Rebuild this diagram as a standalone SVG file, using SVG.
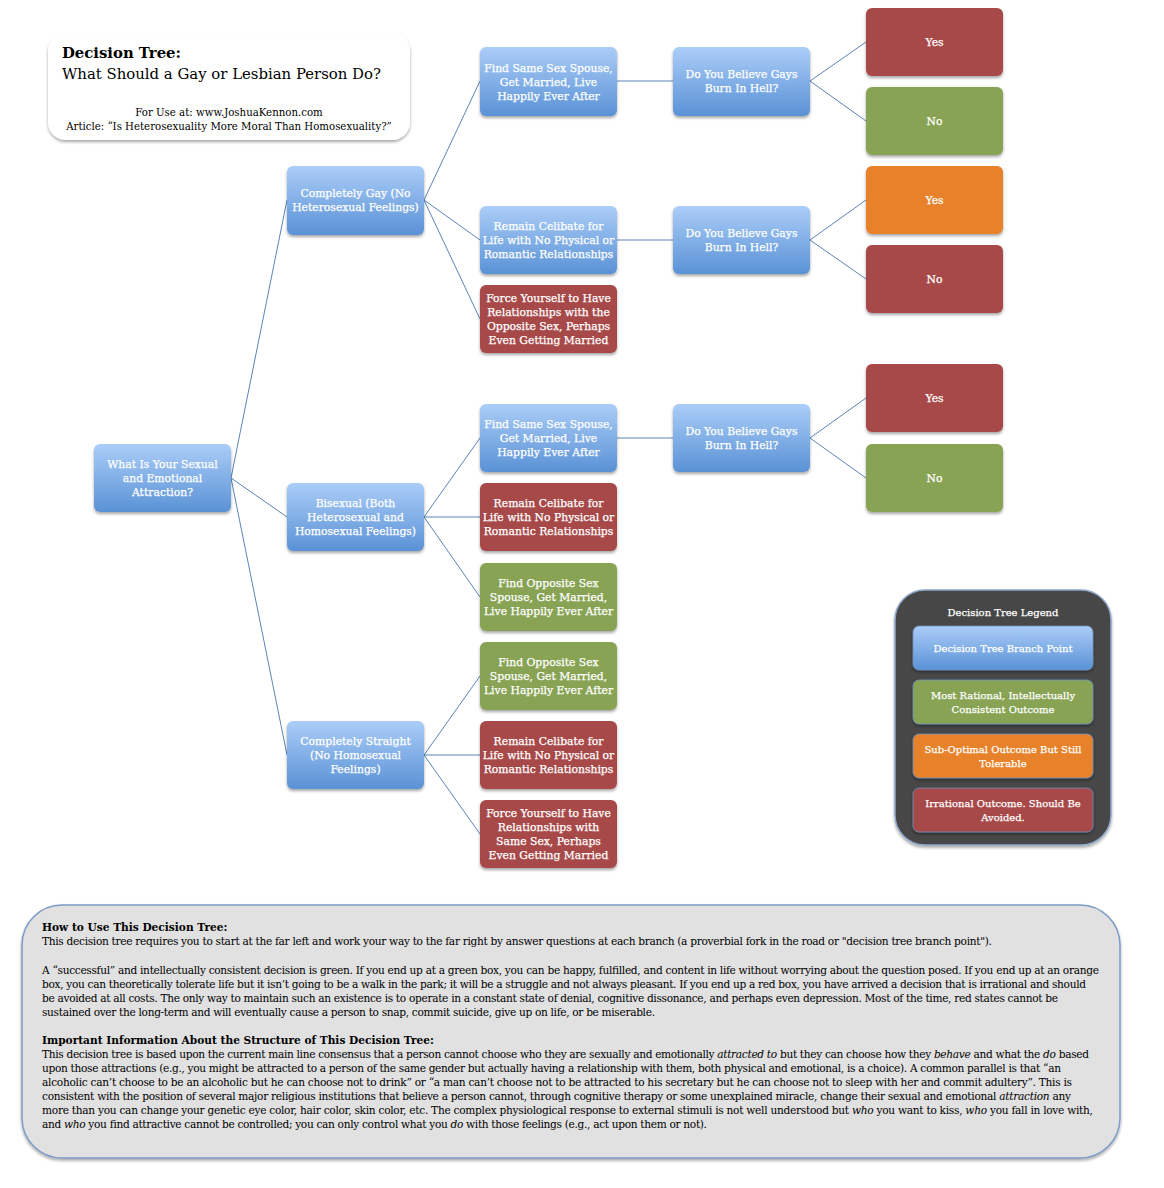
<svg xmlns="http://www.w3.org/2000/svg" width="1164" height="1188" viewBox="0 0 1164 1188">
<defs>
<linearGradient id="blue" x1="0" y1="0" x2="0" y2="1">
<stop offset="0" stop-color="#abcdf8"/>
<stop offset="1" stop-color="#5a92d6"/>
</linearGradient>
<filter id="sh" x="-20%" y="-20%" width="140%" height="150%">
<feDropShadow dx="0" dy="2" stdDeviation="1.6" flood-color="#000" flood-opacity="0.35"/>
</filter>
<style>
.n{filter:url(#sh)}
.b{fill:url(#blue)}
.r{fill:#a84a48}
.g{fill:#87a353}
.o{fill:#e8822a}
.t{font-family:"DejaVu Serif","Liberation Serif",serif;font-size:10.8px;fill:#fff;stroke:#fff;stroke-width:0.25;text-anchor:middle}
.lg{font-size:10px}
.c line{stroke:#5b84b8;stroke-width:1}
.p{font-family:"DejaVu Serif","Liberation Serif",serif;font-size:10.6px;fill:#000}
.h{font-weight:bold}
</style>
</defs>
<rect width="1164" height="1188" fill="#fff"/>

<g id="title">
<rect x="48" y="33" width="362" height="107" rx="18" fill="#fff" filter="url(#sh)"/>
<text x="62" y="58" font-family="DejaVu Serif, serif" font-size="15.5" font-weight="bold" fill="#000" textLength="119" lengthAdjust="spacingAndGlyphs">Decision Tree:</text>
<text x="62" y="79" font-family="DejaVu Serif, serif" font-size="15" fill="#000" textLength="319" lengthAdjust="spacingAndGlyphs">What Should a Gay or Lesbian Person Do?</text>
<text x="229" y="116" font-family="DejaVu Serif, serif" font-size="10.2" fill="#000" text-anchor="middle">For Use at: www.JoshuaKennon.com</text>
<text x="229" y="130" font-family="DejaVu Serif, serif" font-size="10.2" fill="#000" text-anchor="middle">Article: “Is Heterosexuality More Moral Than Homosexuality?”</text>
</g>

<g class="c" id="connectors">
<line x1="231" y1="478" x2="287" y2="200"/>
<line x1="231" y1="478" x2="287" y2="517"/>
<line x1="231" y1="478" x2="287" y2="755"/>
<line x1="424" y1="200" x2="480" y2="81"/>
<line x1="424" y1="200" x2="480" y2="240"/>
<line x1="424" y1="200" x2="480" y2="319"/>
<line x1="424" y1="517" x2="480" y2="438"/>
<line x1="424" y1="517" x2="480" y2="517"/>
<line x1="424" y1="517" x2="480" y2="597"/>
<line x1="424" y1="755" x2="480" y2="676"/>
<line x1="424" y1="755" x2="480" y2="755"/>
<line x1="424" y1="755" x2="480" y2="834"/>
<line x1="617" y1="81" x2="673" y2="81"/>
<line x1="617" y1="240" x2="673" y2="240"/>
<line x1="617" y1="438" x2="673" y2="438"/>
<line x1="810" y1="81" x2="866" y2="42"/>
<line x1="810" y1="81" x2="866" y2="121"/>
<line x1="810" y1="240" x2="866" y2="200"/>
<line x1="810" y1="240" x2="866" y2="279"/>
<line x1="810" y1="438" x2="866" y2="398"/>
<line x1="810" y1="438" x2="866" y2="478"/>
</g>

<g id="root"><rect class="n b" x="94" y="444" width="137" height="68" rx="6"/>
<text class="t"><tspan x="162.5" y="468">What Is Your Sexual</tspan><tspan x="162.5" y="482">and Emotional</tspan><tspan x="162.5" y="496">Attraction?</tspan></text></g>

<g id="gay"><rect class="n b" x="287" y="166" width="137" height="69" rx="6"/>
<text class="t"><tspan x="355.5" y="197">Completely Gay (No</tspan><tspan x="355.5" y="211">Heterosexual Feelings)</tspan></text></g>

<g id="bi"><rect class="n b" x="287" y="483" width="137" height="68" rx="6"/>
<text class="t"><tspan x="355.5" y="507">Bisexual (Both</tspan><tspan x="355.5" y="521">Heterosexual and</tspan><tspan x="355.5" y="535">Homosexual Feelings)</tspan></text></g>

<g id="straight"><rect class="n b" x="287" y="721" width="137" height="68" rx="6"/>
<text class="t"><tspan x="355.5" y="745">Completely Straight</tspan><tspan x="355.5" y="759">(No Homosexual</tspan><tspan x="355.5" y="773">Feelings)</tspan></text></g>

<g id="gay-spouse"><rect class="n b" x="480" y="47" width="137" height="69" rx="6"/>
<text class="t"><tspan x="548.5" y="72">Find Same Sex Spouse,</tspan><tspan x="548.5" y="86">Get Married, Live</tspan><tspan x="548.5" y="100">Happily Ever After</tspan></text></g>

<g id="gay-celibate"><rect class="n b" x="480" y="206" width="137" height="68" rx="6"/>
<text class="t"><tspan x="548.5" y="230">Remain Celibate for</tspan><tspan x="548.5" y="244">Life with No Physical or</tspan><tspan x="548.5" y="258">Romantic Relationships</tspan></text></g>

<g id="gay-force"><rect class="n r" x="480" y="285" width="137" height="68" rx="6"/>
<text class="t"><tspan x="548.5" y="302">Force Yourself to Have</tspan><tspan x="548.5" y="316">Relationships with the</tspan><tspan x="548.5" y="330">Opposite Sex, Perhaps</tspan><tspan x="548.5" y="344">Even Getting Married</tspan></text></g>

<g id="bi-spouse"><rect class="n b" x="480" y="404" width="137" height="68" rx="6"/>
<text class="t"><tspan x="548.5" y="428">Find Same Sex Spouse,</tspan><tspan x="548.5" y="442">Get Married, Live</tspan><tspan x="548.5" y="456">Happily Ever After</tspan></text></g>

<g id="bi-celibate"><rect class="n r" x="480" y="483" width="137" height="68" rx="6"/>
<text class="t"><tspan x="548.5" y="507">Remain Celibate for</tspan><tspan x="548.5" y="521">Life with No Physical or</tspan><tspan x="548.5" y="535">Romantic Relationships</tspan></text></g>

<g id="bi-opposite"><rect class="n g" x="480" y="563" width="137" height="68" rx="6"/>
<text class="t"><tspan x="548.5" y="587">Find Opposite Sex</tspan><tspan x="548.5" y="601">Spouse, Get Married,</tspan><tspan x="548.5" y="615">Live Happily Ever After</tspan></text></g>

<g id="straight-opposite"><rect class="n g" x="480" y="642" width="137" height="68" rx="6"/>
<text class="t"><tspan x="548.5" y="666">Find Opposite Sex</tspan><tspan x="548.5" y="680">Spouse, Get Married,</tspan><tspan x="548.5" y="694">Live Happily Ever After</tspan></text></g>

<g id="straight-celibate"><rect class="n r" x="480" y="721" width="137" height="68" rx="6"/>
<text class="t"><tspan x="548.5" y="745">Remain Celibate for</tspan><tspan x="548.5" y="759">Life with No Physical or</tspan><tspan x="548.5" y="773">Romantic Relationships</tspan></text></g>

<g id="straight-force"><rect class="n r" x="480" y="800" width="137" height="68" rx="6"/>
<text class="t"><tspan x="548.5" y="817">Force Yourself to Have</tspan><tspan x="548.5" y="831">Relationships with</tspan><tspan x="548.5" y="845">Same Sex, Perhaps</tspan><tspan x="548.5" y="859">Even Getting Married</tspan></text></g>

<g id="q1"><rect class="n b" x="673" y="47" width="137" height="69" rx="6"/>
<text class="t"><tspan x="741.5" y="78">Do You Believe Gays</tspan><tspan x="741.5" y="92">Burn In Hell?</tspan></text></g>
<g id="q2"><rect class="n b" x="673" y="206" width="137" height="68" rx="6"/>
<text class="t"><tspan x="741.5" y="237">Do You Believe Gays</tspan><tspan x="741.5" y="251">Burn In Hell?</tspan></text></g>
<g id="q3"><rect class="n b" x="673" y="404" width="137" height="68" rx="6"/>
<text class="t"><tspan x="741.5" y="435">Do You Believe Gays</tspan><tspan x="741.5" y="449">Burn In Hell?</tspan></text></g>

<g id="q1-yes"><rect class="n r" x="866" y="8" width="137" height="68" rx="6"/><text class="t" x="934.5" y="46">Yes</text></g>
<g id="q1-no"><rect class="n g" x="866" y="87" width="137" height="68" rx="6"/><text class="t" x="934.5" y="125">No</text></g>
<g id="q2-yes"><rect class="n o" x="866" y="166" width="137" height="68" rx="6"/><text class="t" x="934.5" y="204">Yes</text></g>
<g id="q2-no"><rect class="n r" x="866" y="245" width="137" height="68" rx="6"/><text class="t" x="934.5" y="283">No</text></g>
<g id="q3-yes"><rect class="n r" x="866" y="364" width="137" height="68" rx="6"/><text class="t" x="934.5" y="402">Yes</text></g>
<g id="q3-no"><rect class="n g" x="866" y="444" width="137" height="68" rx="6"/><text class="t" x="934.5" y="482">No</text></g>

<g id="legend">
<rect x="895" y="590" width="216" height="255" rx="30" fill="#474747" stroke="#8da7ca" stroke-width="1.5" filter="url(#sh)"/>
<text class="t lg" x="1003" y="616">Decision Tree Legend</text>
<rect class="n b" x="913" y="626" width="180" height="44" rx="6" stroke="#6f8fbf" stroke-width="0.8"/>
<text class="t lg" x="1003" y="652">Decision Tree Branch Point</text>
<rect class="n g" x="913" y="680" width="180" height="44" rx="6" stroke="#6f8fbf" stroke-width="0.8"/>
<text class="t lg"><tspan x="1003" y="699">Most Rational, Intellectually</tspan><tspan x="1003" y="713">Consistent Outcome</tspan></text>
<rect class="n o" x="913" y="734" width="180" height="44" rx="6" stroke="#6f8fbf" stroke-width="0.8"/>
<text class="t lg"><tspan x="1003" y="753">Sub-Optimal Outcome But Still</tspan><tspan x="1003" y="767">Tolerable</tspan></text>
<rect class="n r" x="913" y="788" width="180" height="44" rx="6" stroke="#6f8fbf" stroke-width="0.8"/>
<text class="t lg"><tspan x="1003" y="807">Irrational Outcome.  Should Be</tspan><tspan x="1003" y="821">Avoided.</tspan></text>
</g>

<g id="notes">
<rect x="22" y="905" width="1098" height="253" rx="40" fill="#e1e1e1" stroke="#7e9bc6" stroke-width="1.5" filter="url(#sh)"/>
<text class="p h" x="42" y="931">How to Use This Decision Tree:</text>
<text class="p" x="42" y="945" textLength="950" lengthAdjust="spacing">This decision tree requires you to start at the far left and work your way to the far right by answer questions at each branch (a proverbial fork in the road or "decision tree branch point").</text>
<text class="p" x="42" y="974" textLength="1057" lengthAdjust="spacing">A “successful” and intellectually consistent decision is green.  If you end up at a green box, you can be happy, fulfilled, and content in life without worrying about the question posed.  If you end up at an orange</text>
<text class="p" x="42" y="988" textLength="1044" lengthAdjust="spacing">box, you can theoretically tolerate life but it isn’t going to be a walk in the park; it will be a struggle and not always pleasant.  If you end up a red box, you have arrived a decision that is irrational and should</text>
<text class="p" x="42" y="1002" textLength="1016" lengthAdjust="spacing">be avoided at all costs.  The only way to maintain such an existence is to operate in a constant state of denial, cognitive dissonance, and perhaps even depression.  Most of the time, red states cannot be</text>
<text class="p" x="42" y="1016" textLength="613" lengthAdjust="spacing">sustained over the long-term and will eventually cause a person to snap, commit suicide, give up on life, or be miserable.</text>
<text class="p h" x="42" y="1044">Important Information About the Structure of This Decision Tree:</text>
<text class="p" x="42" y="1058" textLength="1047" lengthAdjust="spacing">This decision tree is based upon the current main line consensus that a person cannot choose who they are sexually and emotionally <tspan font-style="italic">attracted to</tspan> but they can choose how they <tspan font-style="italic">behave</tspan> and what the <tspan font-style="italic">do</tspan> based</text>
<text class="p" x="42" y="1072" textLength="1019" lengthAdjust="spacing">upon those attractions (e.g., you might be attracted to a person of the same gender but actually having a relationship with them, both physical and emotional, is a choice).  A common parallel is that “an</text>
<text class="p" x="42" y="1086" textLength="1030" lengthAdjust="spacing">alcoholic can’t choose to be an alcoholic but he can choose not to drink” or “a man can’t choose not to be attracted to his secretary but he can choose not to sleep with her and commit adultery”.  This is</text>
<text class="p" x="42" y="1100" textLength="1029" lengthAdjust="spacing">consistent with the position of several major religious institutions that believe a person cannot, through cognitive therapy or some unexplained miracle, change their sexual and emotional <tspan font-style="italic">attraction</tspan> any</text>
<text class="p" x="42" y="1114" textLength="1051" lengthAdjust="spacing">more than you can change your genetic eye color, hair color, skin color, etc.   The complex physiological response to external stimuli is not well understood but <tspan font-style="italic">who</tspan> you want to kiss, <tspan font-style="italic">who</tspan> you fall in love with,</text>
<text class="p" x="42" y="1128" textLength="665" lengthAdjust="spacing">and <tspan font-style="italic">who</tspan> you find attractive cannot be controlled; you can only control what you <tspan font-style="italic">do</tspan> with those feelings (e.g., act upon them or not).</text>
</g>
</svg>
